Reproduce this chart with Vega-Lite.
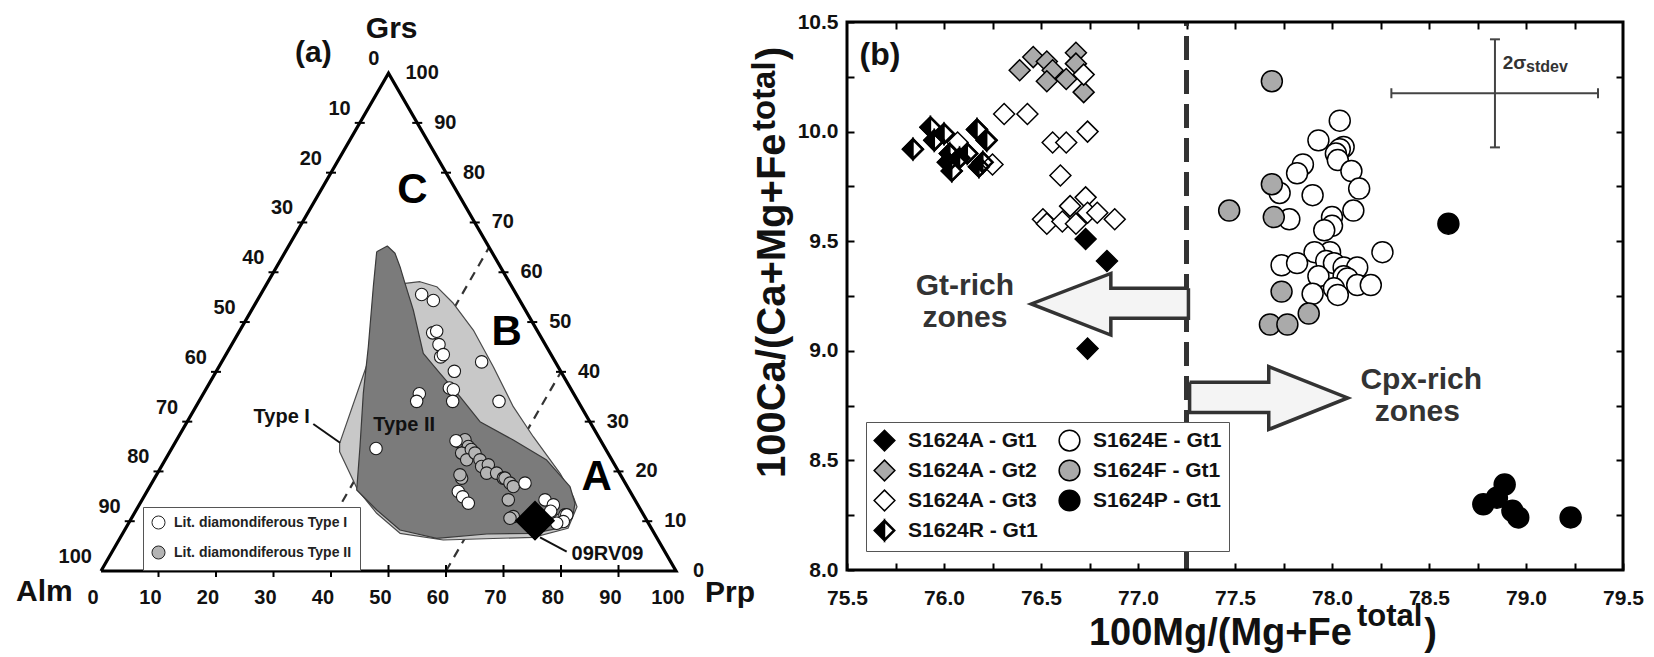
{
  "$schema": "https://vega.github.io/schema/vega-lite/v6.json",
  "padding": 0,
  "autosize": {"type": "pad"},
  "background": "white",
  "spacing": 147,
  "bounds": "flush",
  "config": {
    "view": {"stroke": null, "fill": "white"},
    "axis": {"grid": false},
    "font": "Liberation Sans"
  },
  "resolve": {
    "scale": {"fill": "independent", "shape": "independent", "stroke": "independent"},
    "legend": {"fill": "independent", "shape": "independent", "stroke": "independent"}
  },
  "datasets": {
    "tri": [
      {"i": 0, "x": 0, "g": 0}, {"i": 1, "x": 100, "g": 0}, {"i": 2, "x": 50, "g": 100}, {"i": 3, "x": 0, "g": 0}
    ],
    "dash": [
      {"x": 35, "g": 0, "x2": 67.5, "g2": 65},
      {"x": 60, "g": 0, "x2": 80, "g2": 40}
    ],
    "poly": [
      {"p": "I", "i": 0, "x": 52.87, "g": 57.78}, {"p": "I", "i": 1, "x": 55.48, "g": 58.10},
      {"p": "I", "i": 2, "x": 58.38, "g": 57.10}, {"p": "I", "i": 3, "x": 61.27, "g": 53.77},
      {"p": "I", "i": 4, "x": 64.75, "g": 48.40}, {"p": "I", "i": 5, "x": 68.23, "g": 41.03},
      {"p": "I", "i": 6, "x": 71.70, "g": 33.00}, {"p": "I", "i": 7, "x": 75.18, "g": 26.97},
      {"p": "I", "i": 8, "x": 79.83, "g": 19.62}, {"p": "I", "i": 9, "x": 82.14, "g": 14.92},
      {"p": "I", "i": 10, "x": 82.78, "g": 12.91}, {"p": "I", "i": 11, "x": 81.22, "g": 8.58},
      {"p": "I", "i": 12, "x": 75.18, "g": 6.77}, {"p": "I", "i": 13, "x": 59.53, "g": 6.23},
      {"p": "I", "i": 14, "x": 52.0, "g": 7.57}, {"p": "I", "i": 15, "x": 47.95, "g": 11.59},
      {"p": "I", "i": 16, "x": 44.61, "g": 16.37}, {"p": "I", "i": 17, "x": 41.50, "g": 23.94},
      {"p": "I", "i": 18, "x": 41.50, "g": 25.63}, {"p": "I", "i": 19, "x": 46.17, "g": 41.17},
      {"p": "I", "i": 20, "x": 50.26, "g": 52.42}, {"p": "I", "i": 21, "x": 52.87, "g": 57.78},
      {"p": "II", "i": 0, "x": 47.95, "g": 64.13}, {"p": "II", "i": 1, "x": 49.79, "g": 65.27},
      {"p": "II", "i": 2, "x": 51.13, "g": 63.81}, {"p": "II", "i": 3, "x": 52.0, "g": 61.12},
      {"p": "II", "i": 4, "x": 52.87, "g": 57.78}, {"p": "II", "i": 5, "x": 54.31, "g": 52.42},
      {"p": "II", "i": 6, "x": 56.05, "g": 43.72}, {"p": "II", "i": 7, "x": 58.96, "g": 39.71},
      {"p": "II", "i": 8, "x": 62.43, "g": 35.01}, {"p": "II", "i": 9, "x": 65.91, "g": 29.99},
      {"p": "II", "i": 10, "x": 71.70, "g": 26.31}, {"p": "II", "i": 11, "x": 77.51, "g": 22.29},
      {"p": "II", "i": 12, "x": 81.57, "g": 16.93}, {"p": "II", "i": 13, "x": 82.43, "g": 13.60},
      {"p": "II", "i": 14, "x": 82.14, "g": 11.59}, {"p": "II", "i": 15, "x": 80.99, "g": 8.90},
      {"p": "II", "i": 16, "x": 75.18, "g": 7.57}, {"p": "II", "i": 17, "x": 67.08, "g": 7.43},
      {"p": "II", "i": 18, "x": 58.38, "g": 6.57}, {"p": "II", "i": 19, "x": 52.0, "g": 8.23},
      {"p": "II", "i": 20, "x": 47.95, "g": 12.25}, {"p": "II", "i": 21, "x": 44.47, "g": 16.27},
      {"p": "II", "i": 22, "x": 45.04, "g": 24.96}, {"p": "II", "i": 23, "x": 45.62, "g": 35.69},
      {"p": "II", "i": 24, "x": 46.49, "g": 45.05}, {"p": "II", "i": 25, "x": 47.36, "g": 57.10},
      {"p": "II", "i": 26, "x": 47.95, "g": 64.13}
    ],
    "tern": [
      {"e": "L", "v": 0, "t": "0", "x": 50, "g": 100}, {"e": "L", "v": 10, "t": "10", "x": 45, "g": 90},
      {"e": "L", "v": 20, "t": "20", "x": 40, "g": 80}, {"e": "L", "v": 30, "t": "30", "x": 35, "g": 70},
      {"e": "L", "v": 40, "t": "40", "x": 30, "g": 60}, {"e": "L", "v": 50, "t": "50", "x": 25, "g": 50},
      {"e": "L", "v": 60, "t": "60", "x": 20, "g": 40}, {"e": "L", "v": 70, "t": "70", "x": 15, "g": 30},
      {"e": "L", "v": 80, "t": "80", "x": 10, "g": 20}, {"e": "L", "v": 90, "t": "90", "x": 5, "g": 10},
      {"e": "L", "v": 100, "t": "100", "x": 0, "g": 0},
      {"e": "R", "v": 0, "t": "0", "x": 100, "g": 0}, {"e": "R", "v": 10, "t": "10", "x": 95, "g": 10},
      {"e": "R", "v": 20, "t": "20", "x": 90, "g": 20}, {"e": "R", "v": 30, "t": "30", "x": 85, "g": 30},
      {"e": "R", "v": 40, "t": "40", "x": 80, "g": 40}, {"e": "R", "v": 50, "t": "50", "x": 75, "g": 50},
      {"e": "R", "v": 60, "t": "60", "x": 70, "g": 60}, {"e": "R", "v": 70, "t": "70", "x": 65, "g": 70},
      {"e": "R", "v": 80, "t": "80", "x": 60, "g": 80}, {"e": "R", "v": 90, "t": "90", "x": 55, "g": 90},
      {"e": "R", "v": 100, "t": "100", "x": 50, "g": 100},
      {"e": "B", "v": 0, "t": "0", "x": 0, "g": 0}, {"e": "B", "v": 10, "t": "10", "x": 10, "g": 0},
      {"e": "B", "v": 20, "t": "20", "x": 20, "g": 0}, {"e": "B", "v": 30, "t": "30", "x": 30, "g": 0},
      {"e": "B", "v": 40, "t": "40", "x": 40, "g": 0}, {"e": "B", "v": 50, "t": "50", "x": 50, "g": 0},
      {"e": "B", "v": 60, "t": "60", "x": 60, "g": 0}, {"e": "B", "v": 70, "t": "70", "x": 70, "g": 0},
      {"e": "B", "v": 80, "t": "80", "x": 80, "g": 0}, {"e": "B", "v": 90, "t": "90", "x": 90, "g": 0},
      {"e": "B", "v": 100, "t": "100", "x": 100, "g": 0}
    ],
    "lit": [
      {"type": "Lit. diamondiferous Type II", "x": 62.14, "g": 26.02},
      {"type": "Lit. diamondiferous Type II", "x": 63.3, "g": 26.36},
      {"type": "Lit. diamondiferous Type II", "x": 63.88, "g": 25.0},
      {"type": "Lit. diamondiferous Type II", "x": 62.72, "g": 23.68},
      {"type": "Lit. diamondiferous Type II", "x": 64.4, "g": 24.4},
      {"type": "Lit. diamondiferous Type II", "x": 63.6, "g": 22.33},
      {"type": "Lit. diamondiferous Type II", "x": 65.04, "g": 23.68},
      {"type": "Lit. diamondiferous Type II", "x": 65.91, "g": 22.33},
      {"type": "Lit. diamondiferous Type II", "x": 66.2, "g": 21.0},
      {"type": "Lit. diamondiferous Type II", "x": 67.36, "g": 21.33},
      {"type": "Lit. diamondiferous Type II", "x": 67.07, "g": 19.66},
      {"type": "Lit. diamondiferous Type II", "x": 68.8, "g": 19.66},
      {"type": "Lit. diamondiferous Type II", "x": 69.97, "g": 18.65},
      {"type": "Lit. diamondiferous Type II", "x": 70.26, "g": 18.65},
      {"type": "Lit. diamondiferous Type II", "x": 71.13, "g": 17.65},
      {"type": "Lit. diamondiferous Type II", "x": 71.7, "g": 16.96},
      {"type": "Lit. diamondiferous Type II", "x": 62.72, "g": 18.65},
      {"type": "Lit. diamondiferous Type II", "x": 62.43, "g": 19.32},
      {"type": "Lit. diamondiferous Type II", "x": 70.84, "g": 14.29},
      {"type": "Lit. diamondiferous Type II", "x": 71.7, "g": 10.93},
      {"type": "Lit. diamondiferous Type II", "x": 71.13, "g": 10.6},
      {"type": "Lit. diamondiferous Type II", "x": 79.83, "g": 10.26},
      {"type": "Lit. diamondiferous Type I", "x": 55.77, "g": 55.53},
      {"type": "Lit. diamondiferous Type I", "x": 57.8, "g": 54.33},
      {"type": "Lit. diamondiferous Type I", "x": 57.68, "g": 47.83},
      {"type": "Lit. diamondiferous Type I", "x": 58.38, "g": 48.15},
      {"type": "Lit. diamondiferous Type I", "x": 58.78, "g": 45.47},
      {"type": "Lit. diamondiferous Type I", "x": 59.07, "g": 43.0},
      {"type": "Lit. diamondiferous Type I", "x": 59.53, "g": 43.46},
      {"type": "Lit. diamondiferous Type I", "x": 66.2, "g": 42.0},
      {"type": "Lit. diamondiferous Type I", "x": 61.45, "g": 40.1},
      {"type": "Lit. diamondiferous Type I", "x": 60.58, "g": 36.76},
      {"type": "Lit. diamondiferous Type I", "x": 61.28, "g": 36.42},
      {"type": "Lit. diamondiferous Type I", "x": 61.16, "g": 34.07},
      {"type": "Lit. diamondiferous Type I", "x": 55.36, "g": 35.61},
      {"type": "Lit. diamondiferous Type I", "x": 54.9, "g": 34.07},
      {"type": "Lit. diamondiferous Type I", "x": 69.22, "g": 34.07},
      {"type": "Lit. diamondiferous Type I", "x": 47.83, "g": 24.61},
      {"type": "Lit. diamondiferous Type I", "x": 73.74, "g": 17.65},
      {"type": "Lit. diamondiferous Type I", "x": 62.14, "g": 15.96},
      {"type": "Lit. diamondiferous Type I", "x": 62.9, "g": 14.9},
      {"type": "Lit. diamondiferous Type I", "x": 63.88, "g": 13.62},
      {"type": "Lit. diamondiferous Type I", "x": 61.74, "g": 26.17},
      {"type": "Lit. diamondiferous Type I", "x": 77.22, "g": 14.29},
      {"type": "Lit. diamondiferous Type I", "x": 78.67, "g": 13.28},
      {"type": "Lit. diamondiferous Type I", "x": 78.2, "g": 12.0},
      {"type": "Lit. diamondiferous Type I", "x": 80.7, "g": 11.27},
      {"type": "Lit. diamondiferous Type I", "x": 81.0, "g": 11.27},
      {"type": "Lit. diamondiferous Type I", "x": 80.4, "g": 9.93},
      {"type": "Lit. diamondiferous Type I", "x": 79.25, "g": 9.6}
    ],
    "gt": [
      {"s": "S1624A - Gt2", "mg": 76.39, "ca": 10.28}, {"s": "S1624A - Gt2", "mg": 76.46, "ca": 10.34},
      {"s": "S1624A - Gt2", "mg": 76.53, "ca": 10.32}, {"s": "S1624A - Gt2", "mg": 76.56, "ca": 10.28},
      {"s": "S1624A - Gt2", "mg": 76.53, "ca": 10.23}, {"s": "S1624A - Gt2", "mg": 76.63, "ca": 10.24},
      {"s": "S1624A - Gt2", "mg": 76.68, "ca": 10.36}, {"s": "S1624A - Gt2", "mg": 76.68, "ca": 10.31},
      {"s": "S1624A - Gt2", "mg": 76.72, "ca": 10.18},
      {"s": "S1624A - Gt3", "mg": 76.72, "ca": 10.26}, {"s": "S1624A - Gt3", "mg": 76.31, "ca": 10.08},
      {"s": "S1624A - Gt3", "mg": 76.43, "ca": 10.08}, {"s": "S1624A - Gt3", "mg": 76.56, "ca": 9.95},
      {"s": "S1624A - Gt3", "mg": 76.63, "ca": 9.95}, {"s": "S1624A - Gt3", "mg": 76.74, "ca": 10.0},
      {"s": "S1624A - Gt3", "mg": 76.6, "ca": 9.8}, {"s": "S1624A - Gt3", "mg": 76.51, "ca": 9.6},
      {"s": "S1624A - Gt3", "mg": 76.53, "ca": 9.58}, {"s": "S1624A - Gt3", "mg": 76.61, "ca": 9.59},
      {"s": "S1624A - Gt3", "mg": 76.65, "ca": 9.66}, {"s": "S1624A - Gt3", "mg": 76.68, "ca": 9.58},
      {"s": "S1624A - Gt3", "mg": 76.73, "ca": 9.7}, {"s": "S1624A - Gt3", "mg": 76.74, "ca": 9.63},
      {"s": "S1624A - Gt3", "mg": 76.79, "ca": 9.63}, {"s": "S1624A - Gt3", "mg": 76.88, "ca": 9.6},
      {"s": "S1624A - Gt3", "mg": 76.25, "ca": 9.85}, {"s": "S1624A - Gt3", "mg": 76.07, "ca": 9.95},
      {"s": "S1624R - Gt1", "mg": 75.84, "ca": 9.92}, {"s": "S1624R - Gt1", "mg": 75.93, "ca": 10.02},
      {"s": "S1624R - Gt1", "mg": 75.95, "ca": 9.96}, {"s": "S1624R - Gt1", "mg": 76.0, "ca": 9.99},
      {"s": "S1624R - Gt1", "mg": 76.03, "ca": 9.9}, {"s": "S1624R - Gt1", "mg": 76.02, "ca": 9.86},
      {"s": "S1624R - Gt1", "mg": 76.04, "ca": 9.82}, {"s": "S1624R - Gt1", "mg": 76.08, "ca": 9.88},
      {"s": "S1624R - Gt1", "mg": 76.12, "ca": 9.9}, {"s": "S1624R - Gt1", "mg": 76.17, "ca": 10.01},
      {"s": "S1624R - Gt1", "mg": 76.22, "ca": 9.96}, {"s": "S1624R - Gt1", "mg": 76.18, "ca": 9.84},
      {"s": "S1624R - Gt1", "mg": 76.2, "ca": 9.86},
      {"s": "S1624A - Gt1", "mg": 76.73, "ca": 9.51}, {"s": "S1624A - Gt1", "mg": 76.84, "ca": 9.41},
      {"s": "S1624A - Gt1", "mg": 76.74, "ca": 9.01},
      {"s": "S1624E - Gt1", "mg": 78.04, "ca": 10.05}, {"s": "S1624E - Gt1", "mg": 77.93, "ca": 9.96},
      {"s": "S1624E - Gt1", "mg": 78.06, "ca": 9.93}, {"s": "S1624E - Gt1", "mg": 78.04, "ca": 9.92},
      {"s": "S1624E - Gt1", "mg": 78.02, "ca": 9.9}, {"s": "S1624E - Gt1", "mg": 78.03, "ca": 9.87},
      {"s": "S1624E - Gt1", "mg": 77.85, "ca": 9.85}, {"s": "S1624E - Gt1", "mg": 77.82, "ca": 9.81},
      {"s": "S1624E - Gt1", "mg": 78.1, "ca": 9.82}, {"s": "S1624E - Gt1", "mg": 77.73, "ca": 9.72},
      {"s": "S1624E - Gt1", "mg": 78.14, "ca": 9.74}, {"s": "S1624E - Gt1", "mg": 77.9, "ca": 9.71},
      {"s": "S1624E - Gt1", "mg": 78.11, "ca": 9.64}, {"s": "S1624E - Gt1", "mg": 77.78, "ca": 9.6},
      {"s": "S1624E - Gt1", "mg": 78.0, "ca": 9.61}, {"s": "S1624E - Gt1", "mg": 78.0, "ca": 9.57},
      {"s": "S1624E - Gt1", "mg": 77.96, "ca": 9.55}, {"s": "S1624E - Gt1", "mg": 78.26, "ca": 9.45},
      {"s": "S1624E - Gt1", "mg": 77.99, "ca": 9.45}, {"s": "S1624E - Gt1", "mg": 77.91, "ca": 9.45},
      {"s": "S1624E - Gt1", "mg": 77.74, "ca": 9.39}, {"s": "S1624E - Gt1", "mg": 77.82, "ca": 9.4},
      {"s": "S1624E - Gt1", "mg": 77.97, "ca": 9.41}, {"s": "S1624E - Gt1", "mg": 78.01, "ca": 9.4},
      {"s": "S1624E - Gt1", "mg": 78.06, "ca": 9.38}, {"s": "S1624E - Gt1", "mg": 78.13, "ca": 9.38},
      {"s": "S1624E - Gt1", "mg": 77.93, "ca": 9.34}, {"s": "S1624E - Gt1", "mg": 78.06, "ca": 9.34},
      {"s": "S1624E - Gt1", "mg": 78.08, "ca": 9.33}, {"s": "S1624E - Gt1", "mg": 78.13, "ca": 9.3},
      {"s": "S1624E - Gt1", "mg": 78.2, "ca": 9.3}, {"s": "S1624E - Gt1", "mg": 78.01, "ca": 9.285},
      {"s": "S1624E - Gt1", "mg": 78.03, "ca": 9.255}, {"s": "S1624E - Gt1", "mg": 77.9, "ca": 9.26},
      {"s": "S1624F - Gt1", "mg": 77.69, "ca": 10.23}, {"s": "S1624F - Gt1", "mg": 77.69, "ca": 9.76},
      {"s": "S1624F - Gt1", "mg": 77.47, "ca": 9.64}, {"s": "S1624F - Gt1", "mg": 77.7, "ca": 9.61},
      {"s": "S1624F - Gt1", "mg": 77.74, "ca": 9.27}, {"s": "S1624F - Gt1", "mg": 77.88, "ca": 9.17},
      {"s": "S1624F - Gt1", "mg": 77.68, "ca": 9.12}, {"s": "S1624F - Gt1", "mg": 77.77, "ca": 9.12},
      {"s": "S1624P - Gt1", "mg": 78.6, "ca": 9.58}, {"s": "S1624P - Gt1", "mg": 78.78, "ca": 8.3},
      {"s": "S1624P - Gt1", "mg": 78.85, "ca": 8.33}, {"s": "S1624P - Gt1", "mg": 78.89, "ca": 8.39},
      {"s": "S1624P - Gt1", "mg": 78.93, "ca": 8.27}, {"s": "S1624P - Gt1", "mg": 78.96, "ca": 8.24},
      {"s": "S1624P - Gt1", "mg": 79.23, "ca": 8.24}
    ],
    "arrows": [
      {"a": 1, "i": 0, "mg": 77.26, "ca": 9.285}, {"a": 1, "i": 1, "mg": 76.86, "ca": 9.285},
      {"a": 1, "i": 2, "mg": 76.86, "ca": 9.353}, {"a": 1, "i": 3, "mg": 76.45, "ca": 9.214},
      {"a": 1, "i": 4, "mg": 76.86, "ca": 9.072}, {"a": 1, "i": 5, "mg": 76.86, "ca": 9.148},
      {"a": 1, "i": 6, "mg": 77.26, "ca": 9.148}, {"a": 1, "i": 7, "mg": 77.26, "ca": 9.285},
      {"a": 2, "i": 0, "mg": 77.266, "ca": 8.857}, {"a": 2, "i": 1, "mg": 77.674, "ca": 8.857},
      {"a": 2, "i": 2, "mg": 77.674, "ca": 8.928}, {"a": 2, "i": 3, "mg": 78.081, "ca": 8.785},
      {"a": 2, "i": 4, "mg": 77.674, "ca": 8.641}, {"a": 2, "i": 5, "mg": 77.674, "ca": 8.718},
      {"a": 2, "i": 6, "mg": 77.266, "ca": 8.718}, {"a": 2, "i": 7, "mg": 77.266, "ca": 8.857}
    ]
  },
  "hconcat": [
    {
      "width": 700,
      "height": 657,
      "data": {"values": [{}]},
      "layer": [
        {
          "data": {"name": "dash"},
          "mark": {"type": "rule", "stroke": "#333333", "strokeWidth": 2.2, "strokeDash": [9, 7]},
          "encoding": {
            "x": {"field": "x", "type": "quantitative", "scale": {"domain": [-17.565, 104.174], "nice": false, "zero": false}, "axis": null},
            "y": {"field": "g", "type": "quantitative", "scale": {"domain": [-17.27, 114.68], "nice": false, "zero": false}, "axis": null},
            "x2": {"field": "x2"},
            "y2": {"field": "g2"}
          }
        },
        {
          "data": {"name": "poly"},
          "transform": [{"filter": "datum.p == 'I'"}],
          "mark": {"type": "line", "fill": "#c8c8c8", "stroke": "#4a4a4a", "strokeWidth": 1.2, "strokeJoin": "round"},
          "encoding": {
            "x": {"field": "x", "type": "quantitative", "axis": null},
            "y": {"field": "g", "type": "quantitative", "axis": null},
            "order": {"field": "i", "type": "quantitative"}
          }
        },
        {
          "data": {"name": "poly"},
          "transform": [{"filter": "datum.p == 'II'"}],
          "mark": {"type": "line", "fill": "#7b7b7b", "stroke": "#3a3a3a", "strokeWidth": 1.2, "strokeJoin": "round"},
          "encoding": {
            "x": {"field": "x", "type": "quantitative", "axis": null},
            "y": {"field": "g", "type": "quantitative", "axis": null},
            "order": {"field": "i", "type": "quantitative"}
          }
        },
        {
          "data": {"name": "tri"},
          "mark": {"type": "line", "stroke": "black", "strokeWidth": 3.2, "strokeJoin": "miter"},
          "encoding": {
            "x": {"field": "x", "type": "quantitative", "axis": null},
            "y": {"field": "g", "type": "quantitative", "axis": null},
            "order": {"field": "i", "type": "quantitative"}
          }
        },
        {
          "data": {"name": "tern"},
          "transform": [{"filter": "datum.e != 'B' && datum.v > 0 && datum.v < 100"}],
          "mark": {"type": "tick", "orient": "horizontal", "size": 10, "thickness": 2, "color": "black", "opacity": 1},
          "encoding": {
            "x": {"field": "x", "type": "quantitative", "axis": null},
            "y": {"field": "g", "type": "quantitative", "axis": null}
          }
        },
        {
          "data": {"name": "tern"},
          "transform": [{"filter": "datum.e == 'B' && datum.v > 0 && datum.v < 100"}],
          "mark": {"type": "tick", "orient": "vertical", "size": 12, "thickness": 2, "color": "black", "opacity": 1},
          "encoding": {
            "x": {"field": "x", "type": "quantitative", "axis": null},
            "y": {"field": "g", "type": "quantitative", "axis": null}
          }
        },
        {
          "data": {"name": "tern"},
          "transform": [{"filter": "datum.e == 'L'"}],
          "mark": {"type": "text", "align": "right", "baseline": "middle", "dx": -9, "dy": -14, "fontSize": 20, "fontWeight": "bold", "color": "#111111"},
          "encoding": {
            "x": {"field": "x", "type": "quantitative", "axis": null},
            "y": {"field": "g", "type": "quantitative", "axis": null},
            "text": {"field": "t", "type": "nominal"}
          }
        },
        {
          "data": {"name": "tern"},
          "transform": [{"filter": "datum.e == 'R'"}],
          "mark": {"type": "text", "align": "left", "baseline": "middle", "dx": 17, "dy": 0, "fontSize": 20, "fontWeight": "bold", "color": "#111111"},
          "encoding": {
            "x": {"field": "x", "type": "quantitative", "axis": null},
            "y": {"field": "g", "type": "quantitative", "axis": null},
            "text": {"field": "t", "type": "nominal"}
          }
        },
        {
          "data": {"name": "tern"},
          "transform": [{"filter": "datum.e == 'B'"}],
          "mark": {"type": "text", "align": "center", "baseline": "middle", "dx": -8, "dy": 27, "fontSize": 20, "fontWeight": "bold", "color": "#111111"},
          "encoding": {
            "x": {"field": "x", "type": "quantitative", "axis": null},
            "y": {"field": "g", "type": "quantitative", "axis": null},
            "text": {"field": "t", "type": "nominal"}
          }
        },
        {
          "data": {"values": [
            {"x": 36.92, "g": 29.52, "x2": 41.57, "g2": 25.77},
            {"x": 76.35, "g": 6.77, "x2": 80.99, "g2": 3.88}
          ]},
          "mark": {"type": "rule", "stroke": "#111111", "strokeWidth": 2},
          "encoding": {
            "x": {"field": "x", "type": "quantitative", "axis": null},
            "y": {"field": "g", "type": "quantitative", "axis": null},
            "x2": {"field": "x2"},
            "y2": {"field": "g2"}
          }
        },
        {
          "data": {"name": "lit"},
          "mark": {"type": "circle", "size": 155, "stroke": "#1a1a1a", "strokeWidth": 1.1, "opacity": 1},
          "encoding": {
            "x": {"field": "x", "type": "quantitative", "axis": null},
            "y": {"field": "g", "type": "quantitative", "axis": null},
            "fill": {
              "field": "type", "type": "nominal",
              "scale": {"domain": ["Lit. diamondiferous Type I", "Lit. diamondiferous Type II"], "range": ["white", "#b4b4b4"]},
              "legend": {
                "title": null, "orient": "none", "legendX": 143, "legendY": 507,
                "symbolType": "circle", "symbolSize": 170, "symbolStrokeColor": "#222222", "symbolStrokeWidth": 1,
                "labelFontSize": 14, "labelFontWeight": "bold", "labelColor": "#222222", "labelLimit": 400,
                "strokeColor": "#555555", "fillColor": "white", "padding": 8, "rowPadding": 11, "labelOffset": 8
              }
            }
          }
        },
        {
          "data": {"values": [{"name": "09RV09", "x": 75.48, "g": 10.1}]},
          "mark": {"type": "point", "shape": "diamond", "filled": true, "fill": "black", "stroke": "black", "size": 1400, "opacity": 1},
          "encoding": {
            "x": {"field": "x", "type": "quantitative", "axis": null},
            "y": {"field": "g", "type": "quantitative", "axis": null}
          }
        },
        {
          "data": {"values": [
            {"t": "A", "x": 86.2, "g": 18.94},
            {"t": "B", "x": 70.56, "g": 48.06},
            {"t": "C", "x": 54.14, "g": 76.52}
          ]},
          "mark": {"type": "text", "align": "center", "baseline": "middle", "fontSize": 42, "fontWeight": "bold", "color": "black"},
          "encoding": {
            "x": {"field": "x", "type": "quantitative", "axis": null},
            "y": {"field": "g", "type": "quantitative", "axis": null},
            "text": {"field": "t", "type": "nominal"}
          }
        },
        {
          "data": {"values": [
            {"t": "Type I", "x": 31.43, "g": 30.87},
            {"t": "Type II", "x": 52.73, "g": 29.32},
            {"t": "09RV09", "x": 88.09, "g": 3.37}
          ]},
          "mark": {"type": "text", "align": "center", "baseline": "middle", "fontSize": 20, "fontWeight": "bold", "color": "#111111"},
          "encoding": {
            "x": {"field": "x", "type": "quantitative", "axis": null},
            "y": {"field": "g", "type": "quantitative", "axis": null},
            "text": {"field": "t", "type": "nominal"}
          }
        },
        {
          "data": {"values": [
            {"t": "Grs", "x": 50.55, "g": 108.8},
            {"t": "Alm", "x": -9.86, "g": -4.16},
            {"t": "Prp", "x": 109.4, "g": -4.42},
            {"t": "(a)", "x": 36.93, "g": 103.98}
          ]},
          "mark": {"type": "text", "align": "center", "baseline": "middle", "fontSize": 30, "fontWeight": "bold", "color": "#111111"},
          "encoding": {
            "x": {"field": "x", "type": "quantitative", "axis": null},
            "y": {"field": "g", "type": "quantitative", "axis": null},
            "text": {"field": "t", "type": "nominal"}
          }
        }
      ]
    },
    {
      "width": 776,
      "height": 570,
      "data": {"values": [{}]},
      "resolve": {"axis": {"x": "independent", "y": "independent"}},
      "layer": [
        {
          "mark": {"type": "rule", "stroke": "#333333", "strokeWidth": 5, "strokeDash": [24, 10]},
          "encoding": {
            "x": {"datum": 77.25, "type": "quantitative", "scale": {"domain": [75.5, 79.5], "nice": false, "zero": false}, "axis": null},
            "y": {"datum": 8, "type": "quantitative", "scale": {"domain": [8, 10.6004], "nice": false, "zero": false}, "axis": null},
            "y2": {"datum": 10.5}
          }
        },
        {
          "data": {"name": "arrows"},
          "mark": {"type": "line", "fill": "#f4f4f4", "stroke": "#333333", "strokeWidth": 3.5, "strokeJoin": "miter"},
          "encoding": {
            "x": {"field": "mg", "type": "quantitative", "axis": null},
            "y": {"field": "ca", "type": "quantitative", "axis": null},
            "detail": {"field": "a", "type": "nominal"},
            "order": {"field": "i", "type": "quantitative"}
          }
        },
        {
          "mark": {"type": "rule", "stroke": "#444444", "strokeWidth": 2},
          "encoding": {
            "x": {"datum": 78.306, "type": "quantitative", "axis": null},
            "x2": {"datum": 79.371},
            "y": {"datum": 10.175, "type": "quantitative", "axis": null}
          }
        },
        {
          "mark": {"type": "rule", "stroke": "#444444", "strokeWidth": 2},
          "encoding": {
            "x": {"datum": 78.84, "type": "quantitative", "axis": null},
            "y": {"datum": 9.928, "type": "quantitative", "axis": null},
            "y2": {"datum": 10.421}
          }
        },
        {
          "data": {"values": [{"mg": 78.84, "ca": 10.421}, {"mg": 78.84, "ca": 9.928}]},
          "mark": {"type": "tick", "orient": "horizontal", "size": 10, "thickness": 2, "color": "#444444", "opacity": 1},
          "encoding": {
            "x": {"field": "mg", "type": "quantitative", "axis": null},
            "y": {"field": "ca", "type": "quantitative", "axis": null}
          }
        },
        {
          "data": {"values": [{"mg": 78.306, "ca": 10.175}, {"mg": 79.371, "ca": 10.175}]},
          "mark": {"type": "tick", "orient": "vertical", "size": 10, "thickness": 2, "color": "#444444", "opacity": 1},
          "encoding": {
            "x": {"field": "mg", "type": "quantitative", "axis": null},
            "y": {"field": "ca", "type": "quantitative", "axis": null}
          }
        },
        {
          "data": {"name": "gt"},
          "transform": [{"filter": "datum.s == 'S1624R - Gt1'"}],
          "mark": {"type": "point", "shape": "diamond", "filled": true, "fill": "white", "stroke": "black", "strokeWidth": 1.5, "size": 440, "opacity": 1},
          "encoding": {
            "x": {"field": "mg", "type": "quantitative", "axis": null},
            "y": {"field": "ca", "type": "quantitative", "axis": null}
          }
        },
        {
          "data": {"name": "gt"},
          "mark": {"type": "point", "filled": true, "size": 440, "strokeWidth": 1.5, "opacity": 1},
          "encoding": {
            "x": {
              "field": "mg", "type": "quantitative",
              "axis": {
                "orient": "bottom", "title": null, "domain": false,
                "values": [75.5, 75.75, 76, 76.25, 76.5, 76.75, 77, 77.25, 77.5, 77.75, 78, 78.25, 78.5, 78.75, 79, 79.25, 79.5],
                "labelExpr": "datum.value % 0.5 == 0 ? format(datum.value, '.1f') : ''",
                "tickSize": -7, "tickWidth": 2, "tickColor": "black",
                "labelFontSize": 21, "labelFontWeight": "bold", "labelColor": "#111111",
                "labelPadding": 24, "labelFlush": false, "labelOverlap": false
              }
            },
            "y": {
              "field": "ca", "type": "quantitative",
              "axis": {
                "orient": "left", "title": null, "domain": false,
                "values": [8, 8.25, 8.5, 8.75, 9, 9.25, 9.5, 9.75, 10, 10.25, 10.5],
                "labelExpr": "datum.value % 0.5 == 0 ? format(datum.value, '.1f') : ''",
                "tickSize": -7, "tickWidth": 2, "tickColor": "black",
                "labelFontSize": 21, "labelFontWeight": "bold", "labelColor": "#111111",
                "labelPadding": 16, "labelFlush": false, "labelOverlap": false
              }
            },
            "fill": {
              "field": "s", "type": "nominal",
              "scale": {
                "domain": ["S1624A - Gt1", "S1624A - Gt2", "S1624A - Gt3", "S1624R - Gt1", "S1624E - Gt1", "S1624F - Gt1", "S1624P - Gt1"],
                "range": ["black", "#aaaaaa", "white", "black", "white", "#aaaaaa", "black"]
              },
              "legend": {
                "title": null, "orient": "bottom-left", "offset": 19, "columns": 2, "columnPadding": 18, "rowPadding": 3,
                "symbolSize": 430, "symbolStrokeWidth": 1.5,
                "labelFontSize": 21, "labelFontWeight": "bold", "labelColor": "#111111", "labelOffset": 12, "labelLimit": 400,
                "strokeColor": "#555555", "fillColor": "white", "padding": 7
              }
            },
            "stroke": {
              "field": "s", "type": "nominal",
              "scale": {
                "domain": ["S1624A - Gt1", "S1624A - Gt2", "S1624A - Gt3", "S1624R - Gt1", "S1624E - Gt1", "S1624F - Gt1", "S1624P - Gt1"],
                "range": ["black", "black", "black", "black", "black", "black", "black"]
              },
              "legend": {
                "title": null, "orient": "bottom-left", "offset": 19, "columns": 2, "columnPadding": 18, "rowPadding": 3,
                "symbolSize": 430, "symbolStrokeWidth": 1.5,
                "labelFontSize": 21, "labelFontWeight": "bold", "labelColor": "#111111", "labelOffset": 12, "labelLimit": 400,
                "strokeColor": "#555555", "fillColor": "white", "padding": 7
              }
            },
            "shape": {
              "field": "s", "type": "nominal",
              "scale": {
                "domain": ["S1624A - Gt1", "S1624A - Gt2", "S1624A - Gt3", "S1624R - Gt1", "S1624E - Gt1", "S1624F - Gt1", "S1624P - Gt1"],
                "range": ["diamond", "diamond", "diamond", "M0,-1L-1,0L0,1Z M0,-1L1,0L0,1L0,0.86L0.86,0L0,-0.86Z", "circle", "circle", "circle"]
              },
              "legend": {
                "title": null, "orient": "bottom-left", "offset": 19, "columns": 2, "columnPadding": 18, "rowPadding": 3,
                "symbolSize": 430, "symbolStrokeWidth": 1.5,
                "labelFontSize": 21, "labelFontWeight": "bold", "labelColor": "#111111", "labelOffset": 12, "labelLimit": 400,
                "strokeColor": "#555555", "fillColor": "white", "padding": 7
              }
            }
          }
        },
        {
          "data": {"values": [
            {"t": "Gt-rich", "mg": 76.108, "ca": 9.295},
            {"t": "zones", "mg": 76.108, "ca": 9.15},
            {"t": "Cpx-rich", "mg": 78.46, "ca": 8.866},
            {"t": "zones", "mg": 78.44, "ca": 8.72}
          ]},
          "mark": {"type": "text", "align": "center", "baseline": "middle", "fontSize": 30, "fontWeight": "bold", "color": "#333333"},
          "encoding": {
            "x": {"field": "mg", "type": "quantitative", "axis": null},
            "y": {"field": "ca", "type": "quantitative", "axis": null},
            "text": {"field": "t", "type": "nominal"}
          }
        },
        {
          "mark": {"type": "text", "text": "(b)", "align": "center", "baseline": "middle", "fontSize": 32, "fontWeight": "bold", "color": "#111111"},
          "encoding": {
            "x": {"datum": 75.67, "type": "quantitative", "axis": null},
            "y": {"datum": 10.349, "type": "quantitative", "axis": null}
          }
        },
        {
          "mark": {"type": "text", "text": "2σ", "align": "left", "baseline": "middle", "fontSize": 19, "fontWeight": "bold", "color": "#333333"},
          "encoding": {
            "x": {"datum": 78.88, "type": "quantitative", "axis": null},
            "y": {"datum": 10.312, "type": "quantitative", "axis": null}
          }
        },
        {
          "mark": {"type": "text", "text": "stdev", "align": "left", "baseline": "middle", "fontSize": 16, "fontWeight": "bold", "color": "#333333"},
          "encoding": {
            "x": {"datum": 79.0, "type": "quantitative", "axis": null},
            "y": {"datum": 10.293, "type": "quantitative", "axis": null}
          }
        },
        {
          "mark": {"type": "text", "text": "100Ca/(Ca+Mg+Fe", "angle": 270, "align": "left", "baseline": "middle", "fontSize": 40, "fontWeight": "bold", "color": "#111111"},
          "encoding": {
            "x": {"datum": 75.1186, "type": "quantitative", "axis": null},
            "y": {"datum": 8.4197, "type": "quantitative", "axis": null}
          }
        },
        {
          "mark": {"type": "text", "text": "total", "angle": 270, "align": "left", "baseline": "middle", "fontSize": 33, "fontWeight": "bold", "color": "#111111"},
          "encoding": {
            "x": {"datum": 75.0773, "type": "quantitative", "axis": null},
            "y": {"datum": 10.0027, "type": "quantitative", "axis": null}
          }
        },
        {
          "mark": {"type": "text", "text": ")", "angle": 270, "align": "left", "baseline": "middle", "fontSize": 40, "fontWeight": "bold", "color": "#111111"},
          "encoding": {
            "x": {"datum": 75.1186, "type": "quantitative", "axis": null},
            "y": {"datum": 10.3266, "type": "quantitative", "axis": null}
          }
        },
        {
          "mark": {"type": "text", "text": "100Mg/(Mg+Fe", "align": "left", "baseline": "middle", "fontSize": 38, "fontWeight": "bold", "color": "#111111"},
          "encoding": {
            "x": {"datum": 76.747, "type": "quantitative", "axis": null},
            "y": {"datum": 7.708, "type": "quantitative", "axis": null}
          }
        },
        {
          "mark": {"type": "text", "text": "total", "align": "left", "baseline": "middle", "fontSize": 31, "fontWeight": "bold", "color": "#111111"},
          "encoding": {
            "x": {"datum": 78.129, "type": "quantitative", "axis": null},
            "y": {"datum": 7.786, "type": "quantitative", "axis": null}
          }
        },
        {
          "mark": {"type": "text", "text": ")", "align": "left", "baseline": "middle", "fontSize": 38, "fontWeight": "bold", "color": "#111111"},
          "encoding": {
            "x": {"datum": 78.475, "type": "quantitative", "axis": null},
            "y": {"datum": 7.708, "type": "quantitative", "axis": null}
          }
        },
        {
          "mark": {"type": "rect", "fillOpacity": 0, "stroke": "black", "strokeWidth": 3},
          "encoding": {
            "x": {
              "datum": 75.5, "type": "quantitative",
              "axis": {
                "orient": "top", "offset": -22, "title": null, "labels": false, "domain": false,
                "values": [75.75, 76, 76.25, 76.5, 76.75, 77, 77.25, 77.5, 77.75, 78, 78.25, 78.5, 78.75, 79, 79.25],
                "tickSize": -7, "tickWidth": 2, "tickColor": "black"
              }
            },
            "x2": {"datum": 79.5},
            "y": {
              "datum": 8, "type": "quantitative",
              "axis": {
                "orient": "right", "title": null, "labels": false, "domain": false,
                "values": [8.25, 8.5, 8.75, 9, 9.25, 9.5, 9.75, 10, 10.25],
                "tickSize": -7, "tickWidth": 2, "tickColor": "black"
              }
            },
            "y2": {"datum": 10.5}
          }
        }
      ]
    }
  ]
}
